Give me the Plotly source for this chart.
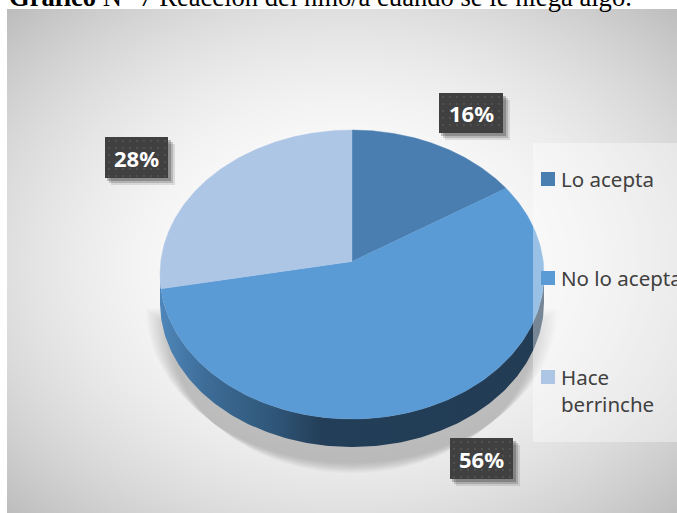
import numpy as np
import plotly.graph_objects as go

categories = ["Lo acepta", "No lo acepta", "Hace<br>berrinche"]
values = [16, 56, 28]
colors = ["#4a7eb1", "#5b9bd5", "#adc6e6"]
title_bold = "Gráfico"
title_rest = " N° 7 Reacción del niño/a cuando se le niega algo."

W, H = 677, 513
CX, CY, RX, RY = 352, 274.5, 192, 144.5
DEPTH = 28
A = 0.09  # perspective tilt of the pie plane


def project(theta):
    s, c = np.sin(theta), np.cos(theta)
    d = 1 + A * c
    yy = (c + A) / d
    xx = s * np.sqrt(1 - A * A) / d
    return CX + RX * xx, CY - RY * yy


fig = go.Figure()

# background radial gradient
gx = np.arange(8.5, W + 3, 3.0)
gy = np.arange(10.5, H + 3, 3.0)
mx, my = np.meshgrid(gx, gy)
dist = np.sqrt(((mx - 345) / 335) ** 2 + ((my - 262) / 252) ** 2) / np.sqrt(2)
fig.add_trace(go.Heatmap(x=gx, y=gy, z=np.round(np.clip(dist, 0, 1) ** 2.1, 3), zmin=0, zmax=1, zsmooth="best",
                         colorscale=[[0, "#ffffff"], [1, "#bdbdbd"]], showscale=False, hoverinfo="skip"))

# soft shadow under the pie
for i in range(14):
    t = np.linspace(np.pi / 2, 3 * np.pi / 2, 120)
    ry = RY + 10 - i * 0.7
    top = CY + 34 + i * 1.5
    xs = CX + (RX + 14 - i * 1.8) * np.sin(t)
    ys = top + ry * -np.cos(t)
    fig.add_trace(go.Scatter(x=xs, y=ys, mode="lines", fill="toself", line=dict(width=0),
                             fillcolor="rgba(70,70,70,0.02)", hoverinfo="skip", showlegend=False))

# pie side wall
t = np.linspace(np.pi / 2, 3 * np.pi / 2, 200)
ex = CX + RX * np.sin(t)
ey = CY - RY * np.cos(t)
fig.add_trace(go.Scatter(
    x=np.r_[ex, ex[::-1]], y=np.r_[ey + DEPTH, ey[::-1]], mode="lines", line=dict(width=0), fill="toself",
    fillgradient=dict(type="horizontal", start=CX - RX, stop=CX + RX,
                      colorscale=[[0, "#4f86ba"], [0.12, "#3d6c97"], [0.3, "#2f5678"], [0.42, "#233e58"], [1, "#223c54"]]),
    hoverinfo="skip", showlegend=False))

# pie top face, one wedge per category, from the values
total = sum(values)
start = 0.0
ax, ay = CX, CY - RY * A
for name, v, col in zip(categories, values, colors):
    end = start + v / total * 2 * np.pi
    th = np.linspace(start, end, 160)
    px, py = project(th)
    fig.add_trace(go.Scatter(x=np.r_[ax, px, ax], y=np.r_[ay, py, ay], mode="lines", fill="toself",
                             fillcolor=col, line=dict(width=0.4, color=col), hoverinfo="skip", showlegend=False))
    start = end

shapes = [dict(type="rect", xref="x", yref="y", x0=533, x1=W, y0=143, y1=442, line_width=0,
               fillcolor="rgba(255,255,255,0.38)", layer="above")]
annotations = []

# legend entries
legend_y = [179, 278, 377]
for name, col, ly in zip(categories, colors, legend_y):
    shapes.append(dict(type="rect", xref="x", yref="y", x0=541, x1=555, y0=ly - 7, y1=ly + 7, line_width=0,
                       fillcolor=col, layer="above"))
    annotations.append(dict(x=559.5, y=ly - 15, xref="x", yref="y", xanchor="left", yanchor="top", align="left",
                            showarrow=False, text=name, borderpad=0,
                            font=dict(family="Noto Sans", size=20.5, color="#404040")))

boxes = [(439, 503, 93, 133), (450, 513, 438, 479), (105, 168, 137, 178)]
for (x0, x1, y0, y1), v in zip(boxes, values):
    for k, alpha in ((7, 0.10), (5, 0.16), (3, 0.22)):
        shapes.append(dict(type="rect", xref="x", yref="y", x0=x0 + k - 1, x1=x1 + k, y0=y0 + k, y1=y1 + k,
                           line_width=0, fillcolor=f"rgba(0,0,0,{alpha})", layer="above"))
    shapes.append(dict(type="rect", xref="x", yref="y", x0=x0, x1=x1, y0=y0, y1=y1, line_width=0,
                       fillcolor="#404040", layer="above"))
    for dx in np.arange(x0 + 3, x1 - 2, 7):
        for dy in np.arange(y0 + 3, y1 - 2, 7):
            shapes.append(dict(type="rect", xref="x", yref="y", x0=dx, x1=dx + 2, y0=dy, y1=dy + 2, line_width=0,
                               fillcolor="#505050", layer="above"))
    annotations.append(dict(x=(x0 + x1) / 2, y=(y0 + y1) / 2, xref="x", yref="y", text=f"<b>{v}%</b>",
                            showarrow=False, font=dict(family="Noto Sans", size=22, color="#ffffff")))

annotations.append(dict(x=7 / W, y=1 + 3 / H, xref="paper", yref="paper", xanchor="left", yanchor="middle",
                        showarrow=False, text=f"<b>{title_bold}</b>{title_rest}",
                        font=dict(family="Liberation Serif", size=26.6, color="#000000")))

fig.update_layout(
    width=W, height=H, margin=dict(l=0, r=0, t=0, b=0, autoexpand=False), paper_bgcolor="#ffffff", plot_bgcolor="#ffffff",
    xaxis=dict(range=[0, W], visible=False, fixedrange=True),
    yaxis=dict(range=[H, 0], visible=False, fixedrange=True),
    shapes=shapes, annotations=annotations, showlegend=False,
)
fig.write_html("out.html", config=dict(displayModeBar=False),
               post_script="document.body.style.margin='0';document.documentElement.style.overflow='hidden';")
